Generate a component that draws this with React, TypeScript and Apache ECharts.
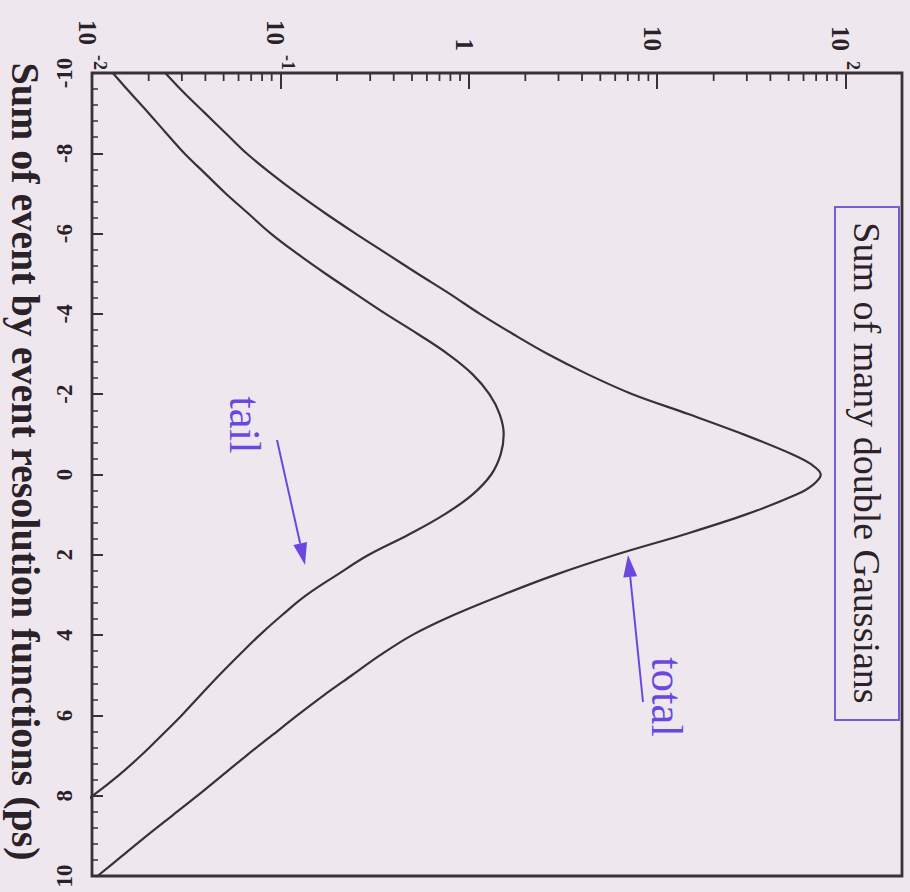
import React, { useEffect, useRef } from 'react';
import * as echarts from 'echarts';

// time offset (ps) and function values
const totalTimes = [-10, -9.5, -9, -8.5, -8, -7.5, -7, -6.5, -6, -5.5, -5, -4.5, -4, -3.5, -3, -2.5, -2, -1.5, -1, -0.5, -0.25, 0, 0.25, 0.5, 1, 1.5, 2, 2.5, 3, 3.5, 4, 4.5, 5, 5.5, 6, 6.5, 7, 7.5, 8, 8.5, 9, 9.5, 10];
const totalValues = [0.0245, 0.0309, 0.0398, 0.0513, 0.0661, 0.0891, 0.123, 0.174, 0.251, 0.367, 0.537, 0.794, 1.148, 1.718, 2.63, 4.27, 7.41, 14.8, 28.8, 52.5, 66.1, 74.1, 67.6, 55.0, 29.5, 13.8, 6.03, 2.88, 1.51, 0.832, 0.501, 0.339, 0.24, 0.17, 0.123, 0.0902, 0.0661, 0.049, 0.0363, 0.0266, 0.0195, 0.01445, 0.0107];

const tailTimes = [-10, -9.5, -9, -8.5, -8, -7.5, -7, -6.5, -6, -5.5, -5, -4.5, -4, -3.5, -3, -2.5, -2, -1.5, -1, -0.5, 0, 0.5, 1, 1.5, 2, 2.5, 3, 3.5, 4, 4.5, 5, 5.5, 6, 6.5, 7, 7.5, 8, 8.5, 9, 9.5, 10];
const tailValues = [0.0129, 0.016, 0.02, 0.0248, 0.0309, 0.0398, 0.0513, 0.0676, 0.0891, 0.123, 0.174, 0.251, 0.363, 0.537, 0.776, 1.047, 1.288, 1.462, 1.535, 1.479, 1.318, 1.047, 0.741, 0.479, 0.295, 0.2, 0.138, 0.1023, 0.0776, 0.0603, 0.0473, 0.0376, 0.0299, 0.0234, 0.0182, 0.0138, 0.0101, 0.00716, 0.005, 0.00347, 0.0024];

const logMinorTicks = [
  0.02, 0.03, 0.04, 0.05, 0.06, 0.07, 0.08, 0.09,
  0.2, 0.3, 0.4, 0.5, 0.6, 0.7, 0.8, 0.9,
  2, 3, 4, 5, 6, 7, 8, 9,
  20, 30, 40, 50, 60, 70, 80, 90,
];

const FONT = '"Liberation Serif", "DejaVu Serif", serif';
const INK = '#3a3038';
const TEXT = '#2a2228';
const PURPLE = '#6a48e0';

function arrow(x1: number, y1: number, x2: number, y2: number, color: string) {
  const dx = x2 - x1;
  const dy = y2 - y1;
  const len = Math.sqrt(dx * dx + dy * dy);
  const ux = dx / len;
  const uy = dy / len;
  const hl = 22;
  const hw = 7;
  const bx = x2 - ux * hl;
  const by = y2 - uy * hl;
  return [
    { type: 'line', shape: { x1, y1, x2: bx, y2: by }, style: { stroke: color, lineWidth: 2 } },
    {
      type: 'polygon',
      shape: { points: [[x2, y2], [bx - uy * hw, by + ux * hw], [bx + uy * hw, by - ux * hw]] },
      style: { fill: color },
    },
  ];
}

export default function App() {
  const ref = useRef<HTMLDivElement>(null);
  useEffect(() => {
    const chart = echarts.init(ref.current!, null, { renderer: 'svg' });
    const option: any = {
      animation: false,
      backgroundColor: '#eee8ee',
      grid: {
        left: 92, top: 73, right: 8, bottom: 16,
        containLabel: false, outerBoundsMode: 'none',
        show: true, borderColor: INK, borderWidth: 2.8, backgroundColor: 'transparent',
      },
      xAxis: {
        type: 'log', logBase: 10, min: 0.01, max: 200, position: 'top',
        axisLine: { show: false, onZero: false },
        splitLine: { show: false },
        axisTick: { show: true, inside: true, length: 16, lineStyle: { color: INK, width: 2 } },
        axisLabel: {
          rotate: 90, margin: 3, color: TEXT, fontFamily: FONT, fontWeight: 'bold', fontSize: 25,
          showMaxLabel: false,
          formatter: (v: number) => {
            const l = Math.log10(v);
            const e = Math.round(l);
            if (Math.abs(l - e) > 1e-6) return '';
            if (e === 0) return '{b|1}{p|}';
            if (e === 1) return '{b|10}{p|}';
            return `{b|10}{s|${e}}`;
          },
          rich: {
            b: { fontFamily: FONT, fontWeight: 'bold', fontSize: 25, lineHeight: 34, verticalAlign: 'bottom', color: TEXT },
            s: { fontFamily: FONT, fontWeight: 'bold', fontSize: 18, lineHeight: 34, verticalAlign: 'top', color: TEXT, padding: [0, 0, 0, 10] },
            p: { width: 19, lineHeight: 34 },
          },
        },
      },
      yAxis: {
        type: 'value', min: -10, max: 10, interval: 2, inverse: true, position: 'left',
        name: 'Sum of event by event resolution functions (ps)',
        nameLocation: 'middle', nameRotate: -90, nameGap: 40,
        nameTextStyle: { fontFamily: FONT, fontWeight: 'bold', fontSize: 40, color: TEXT, padding: [0, 26, 0, 0] },
        axisLine: { show: false, onZero: false },
        splitLine: { show: false },
        axisTick: { show: true, inside: true, length: 11, lineStyle: { color: INK, width: 2 } },
        minorTick: { show: true, splitNumber: 5, length: 6, lineStyle: { color: INK, width: 1.5 } },
        axisLabel: {
          rotate: 90, margin: 16, color: TEXT, fontFamily: FONT, fontWeight: 'bold', fontSize: 23,
        },
      },
      series: [
        {
          type: 'line', name: 'total', smooth: 0.35, showSymbol: false, symbol: 'none',
          lineStyle: { color: INK, width: 2.2 },
          data: totalTimes.map((t, i) => [totalValues[i], t]),
        },
        {
          type: 'line', name: 'tail', smooth: 0.4, showSymbol: false, symbol: 'none',
          lineStyle: { color: INK, width: 2.2 },
          data: tailTimes.map((t, i) => [tailValues[i], t]),
        },
        {
          type: 'custom', name: 'minor ticks', silent: true,
          data: logMinorTicks.map((v) => [v, -10]),
          renderItem: (params: any, api: any) => {
            const p = api.coord([api.value(0), -10]);
            return {
              type: 'line',
              shape: { x1: p[0], y1: p[1], x2: p[0], y2: p[1] + 8 },
              style: { stroke: INK, lineWidth: 1.8 },
            };
          },
        },
      ],
      graphic: [
        {
          type: 'rect', shape: { x: 835, y: 207, width: 64, height: 513 },
          style: { fill: 'transparent', stroke: '#7a5cd4', lineWidth: 2 },
        },
        {
          type: 'text', x: 867, y: 463, rotation: -Math.PI / 2,
          style: {
            text: 'Sum of many double Gaussians', fontFamily: FONT, fontSize: 38,
            fill: TEXT, align: 'center', verticalAlign: 'middle',
          },
        },
        {
          type: 'text', x: 245, y: 425, rotation: -Math.PI / 2,
          style: { text: 'tail', fontFamily: FONT, fontSize: 45, fill: PURPLE, align: 'center', verticalAlign: 'middle' },
        },
        {
          type: 'text', x: 667, y: 697, rotation: -Math.PI / 2,
          style: { text: 'total', fontFamily: FONT, fontSize: 45, fill: PURPLE, align: 'center', verticalAlign: 'middle' },
        },
        ...arrow(277, 440, 305, 565, PURPLE),
        ...arrow(643, 702, 628, 555, PURPLE),
      ],
    };
    chart.setOption(option);
    return () => chart.dispose();
  }, []);
  return (
    <div
      ref={ref}
      style={{ position: 'fixed', left: 0, top: 0, width: 910, height: 892, background: '#eee8ee' }}
    />
  );
}
